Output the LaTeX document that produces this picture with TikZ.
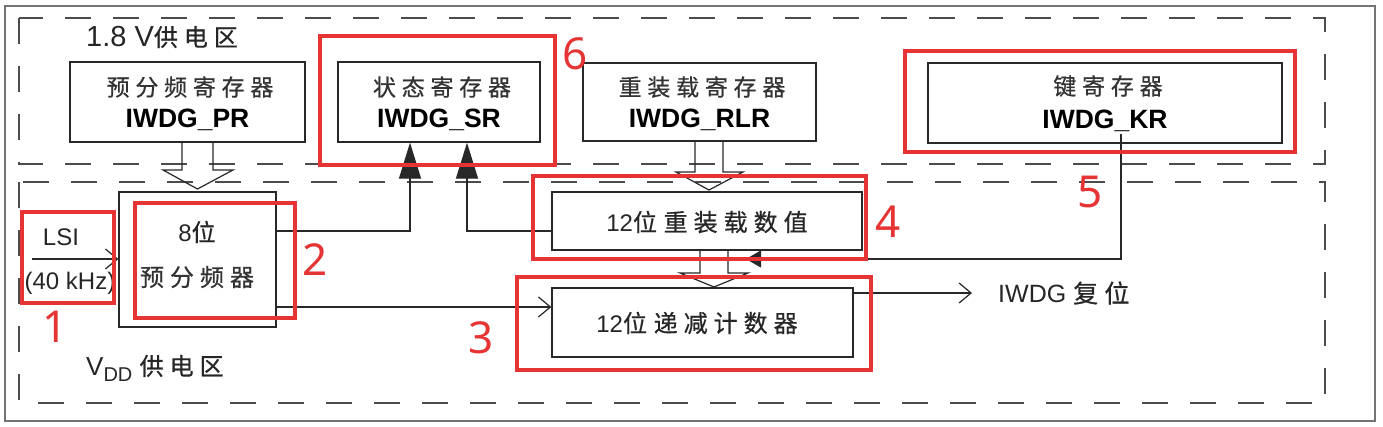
\documentclass[tikz,border=0pt]{standalone}
\usepackage{fontspec}
\setmainfont{Liberation Sans}
\newfontfamily\cjk[LetterSpace=25,FakeBold=0.6]{Noto Sans CJK SC}
\newfontfamily\numfont{Noto Sans}
\usetikzlibrary{arrows.meta}
\definecolor{myred}{RGB}{230,52,52}
\definecolor{ink}{RGB}{40,40,40}
\begin{document}
\begin{tikzpicture}[x=1pt,y=-1pt,
  blk/.style={draw=ink, line width=1.3pt, inner sep=0pt},
  redbox/.style={draw=myred, line width=3.6pt},
  dbox/.style={draw=black!70, line width=1.6pt, dash pattern=on 26pt off 22pt},
  outerframe/.style={draw=black!55, line width=1.8pt},
  conn/.style={draw=ink, line width=1.2pt},
  hol/.style={draw=ink, line width=1.2pt, line join=miter},
  cn/.style={inner sep=0pt, text=black!80, font=\cjk\fontsize{23}{26}\selectfont},
  bd/.style={inner sep=0pt, text=black, font=\bfseries\fontsize{26.5}{30}\selectfont},
  lt/.style={inner sep=0pt, text=black!85, font=\fontsize{24}{28}\selectfont},
  num/.style={inner sep=0pt, text=myred, font=\numfont\fontsize{44}{48}\selectfont},
  filledarr/.style={-{Triangle[length=36pt,width=22pt]}},
  smallfilled/.style={-{Triangle[length=15pt,width=17pt]}},
  openarr/.style={-{Straight Barb[length=12pt,width=20pt]}},
]
\fill[white] (0,0) rectangle (1383,427);
\useasboundingbox (0,0) rectangle (1383,427);

% outer frame and supply areas
\draw[outerframe] (5,6) rectangle (1375,421);
\draw[dbox] (19,18) rectangle (1325,164);
\draw[dbox] (19,182) rectangle (1325,403);

\node[lt, anchor=west, font=\fontsize{29}{32}\selectfont] (z18) at (86,37) {1.8 V{\cjk\fontsize{24}{26}\selectfont 供电区}};
\node[lt, anchor=west, font=\fontsize{26}{30}\selectfont] (zvdd) at (86,368) {V\raisebox{-6pt}{\fontsize{20}{22}\selectfont DD} {\cjk\fontsize{24}{26}\selectfont 供电区}};

% registers (1.8 V area)
\node[blk, minimum width=235pt, minimum height=80pt] (pr) at (187.5,102) {};
\node[cn] (prA) at (190,87) {预分频寄存器};
\node[bd] (prB) at (187.5,120) {IWDG\_PR};

\node[blk, minimum width=202pt, minimum height=80pt] (sr) at (439,102) {};
\node[cn] (srA) at (442,87) {状态寄存器};
\node[bd] (srB) at (439,120) {IWDG\_SR};

\node[blk, minimum width=233pt, minimum height=78pt] (rlr) at (699.5,102) {};
\node[cn] (rlrA) at (702,87) {重装载寄存器};
\node[bd] (rlrB) at (699.5,120) {IWDG\_RLR};

\node[blk, minimum width=354pt, minimum height=80pt] (kr) at (1105,103) {};
\node[cn] (krA) at (1108,86) {键寄存器};
\node[bd] (krB) at (1105,121) {IWDG\_KR};

% VDD area blocks
\node[blk, minimum width=157pt, minimum height=135pt] (pre) at (197.5,259.5) {};
\node[lt] (preA) at (197,232) {8{\cjk 位}};
\node[cn, font=\cjk\fontsize{24}{26}\selectfont] (preB) at (197,277) {预分频器};

\node[blk, minimum width=310pt, minimum height=58pt] (rel) at (707,221) {};
\node[lt] (relA) at (707,222) {12{\cjk 位} {\cjk 重装载数值}};

\node[blk, minimum width=301pt, minimum height=69pt] (cnt) at (702.5,322.5) {};
\node[lt] (cntA) at (697,323) {12{\cjk 位} {\cjk 递减计数器}};

% LSI input
\node[lt] (lsi) at (61,237) {LSI};
\node[lt] (lsif) at (70,283) {(40 kHz)};
\coordinate (lsiS) at (32,259);
\draw[conn, openarr] (lsiS) -- (pre.west |- lsiS);

% hollow arrows
\draw[hol] (182,142) -- (182,170) -- (163,170) -- (197.5,189) -- (233,170) -- (213,170) -- (213,142);
\draw[hol] (695,141) -- (695,172) -- (676,172) -- (709,190) -- (743,172) -- (723,172) -- (723,141);
\draw[hol] (700,250) -- (700,273) -- (680,273) -- (714,287) -- (748,273) -- (728,273) -- (728,250);

% connectors
\draw[conn, filledarr] (pre.east |- 0,231) -| ([xshift=-29pt]sr.south);
\draw[conn, filledarr] (rel.west |- 0,231) -| ([xshift=28pt]sr.south);
\draw[conn, openarr] (pre.east |- 0,307) -- (cnt.west |- 0,307);
\node[lt, anchor=west, font=\fontsize{25}{28}\selectfont] (rst) at (998,293) {IWDG {\cjk 复位}};
\draw[conn, openarr] (cnt.east |- 0,293) -- ([xshift=-26pt]rst.west);
\coordinate (kdst) at (746,259);
\draw[conn, smallfilled] ([xshift=16pt,yshift=10pt]kr.south) |- (kdst);

% red highlight boxes
\draw[redbox] (22,212) rectangle (114,303);
\draw[redbox] (135,203) rectangle (295,318);
\draw[redbox] (517,277) rectangle (871,370);
\draw[redbox] (533,176) rectangle (866,259);
\draw[redbox] (905,51) rectangle (1295,152);
\draw[redbox] (320,36) rectangle (555,165);

\node[num] (n1) at (55,327) {1};
\node[num] (n2) at (315,260) {2};
\node[num] (n3) at (481,338) {3};
\node[num] (n4) at (888,222) {4};
\node[num] (n5) at (1090,192) {5};
\node[num] (n6) at (575,54) {6};
\end{tikzpicture}
\end{document}
